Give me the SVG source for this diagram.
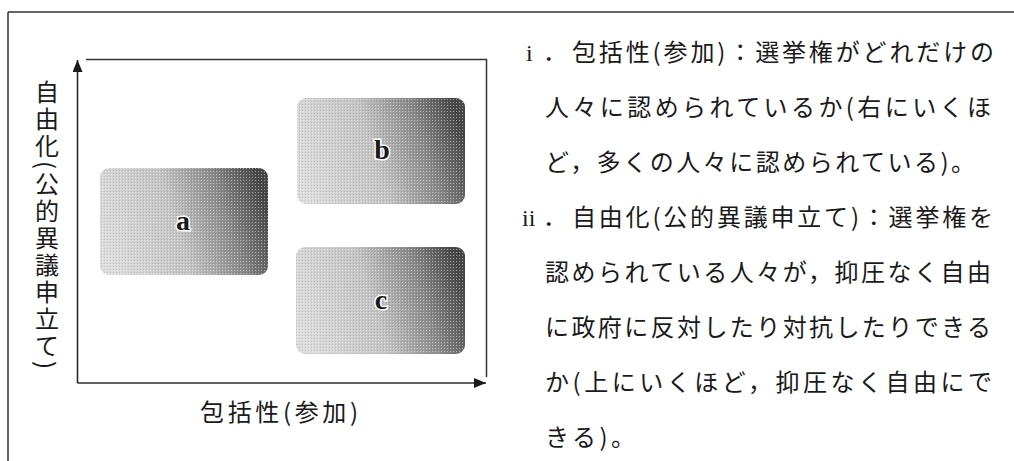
<svg xmlns="http://www.w3.org/2000/svg" width="1014" height="461" viewBox="0 0 1014 461">
  <defs>
    <linearGradient id="shade" x1="0" y1="0.6" x2="1" y2="0.4">
      <stop offset="0" stop-color="#dcdcdc"/>
      <stop offset="0.45" stop-color="#c4c4c4"/>
      <stop offset="0.75" stop-color="#8a8a8a"/>
      <stop offset="1" stop-color="#474747"/>
    </linearGradient>
    <pattern id="dots" width="3" height="3" patternUnits="userSpaceOnUse">
      <rect width="1" height="1" fill="#ffffff" fill-opacity="0.45"/>
      <rect x="2" y="2" width="1" height="1" fill="#000000" fill-opacity="0.12"/>
    </pattern>
    <marker id="arrow" viewBox="0 0 12 10" refX="12" refY="5" markerWidth="12" markerHeight="10" markerUnits="userSpaceOnUse" orient="auto">
      <path d="M0,0 L12,5 L0,10 Z" fill="#1a1a1a"/>
    </marker>
    <style>
      .frame { stroke: #333; stroke-width: 1.5; fill: none; }
      .axis { stroke: #2a2a2a; stroke-width: 1.6; fill: none; }
      .box { fill: url(#shade); }
      .tex { fill: url(#dots); }
      .lbl { font-family: "Liberation Serif", serif; font-weight: bold; font-size: 28px; fill: #1a1a1a; stroke: #ffffff; stroke-width: 3px; paint-order: stroke; text-anchor: middle; }
      .jp { font-family: "Noto Sans CJK JP", "Noto Sans CJK SC", sans-serif; fill: #1a1a1a; }
      .body { font-size: 24px; }
      .num { font-family: "Liberation Serif", serif; font-size: 24px; fill: #1a1a1a; }
      .vert { font-size: 24px; writing-mode: vertical-rl; text-orientation: mixed; letter-spacing: 3px; }
    </style>
  </defs>
  <rect width="1014" height="461" fill="#ffffff"/>
  <g id="frame">
    <path class="frame" d="M8,12 H1014 M8,12 V461"/>
    <path class="frame" d="M86,59.5 H486.5 V377"/>
  </g>
  <g id="connectors">
    <line class="axis" x1="77.5" y1="383" x2="77.5" y2="60" marker-end="url(#arrow)"/>
    <line class="axis" x1="77.5" y1="383" x2="486" y2="383" marker-end="url(#arrow)"/>
  </g>
  <g id="node-a">
    <rect class="box" x="100" y="168" width="168" height="107" rx="9"/>
    <rect class="tex" x="100" y="168" width="168" height="107" rx="9"/>
    <text class="lbl" x="183" y="230">a</text>
  </g>
  <g id="node-b">
    <rect class="box" x="297" y="98" width="168" height="106" rx="9"/>
    <rect class="tex" x="297" y="98" width="168" height="106" rx="9"/>
    <text class="lbl" x="382" y="159">b</text>
  </g>
  <g id="node-c">
    <rect class="box" x="296" y="247" width="169" height="107" rx="9"/>
    <rect class="tex" x="296" y="247" width="169" height="107" rx="9"/>
    <text class="lbl" x="381" y="309">c</text>
  </g>
  <g id="axis-label-y">
    <text class="jp vert" x="47" y="80">自由化(公的異議申立て)</text>
  </g>
  <g id="axis-label-x">
    <text class="jp" x="200" y="421" font-size="24" textLength="158" lengthAdjust="spacing">包括性(参加)</text>
  </g>
  <g id="description">
    <text class="num" x="526" y="61">i</text>
    <text class="jp body" x="543" y="61">．</text>
    <text class="jp body" x="572" y="61" textLength="422" lengthAdjust="spacing">包括性(参加)：選挙権がどれだけの</text>
    <text class="jp body" x="545" y="116" textLength="446" lengthAdjust="spacing">人々に認められているか(右にいくほ</text>
    <text class="jp body" x="545" y="171" textLength="430" lengthAdjust="spacing">ど，多くの人々に認められている)。</text>
    <text class="num" x="522" y="226">ii</text>
    <text class="jp body" x="543" y="226">．</text>
    <text class="jp body" x="572" y="226" textLength="421" lengthAdjust="spacing">自由化(公的異議申立て)：選挙権を</text>
    <text class="jp body" x="545" y="281" textLength="446" lengthAdjust="spacing">認められている人々が，抑圧なく自由</text>
    <text class="jp body" x="545" y="336" textLength="446" lengthAdjust="spacing">に政府に反対したり対抗したりできる</text>
    <text class="jp body" x="545" y="391" textLength="447" lengthAdjust="spacing">か(上にいくほど，抑圧なく自由にで</text>
    <text class="jp body" x="545" y="446" textLength="90" lengthAdjust="spacing">きる)。</text>
  </g>
</svg>
